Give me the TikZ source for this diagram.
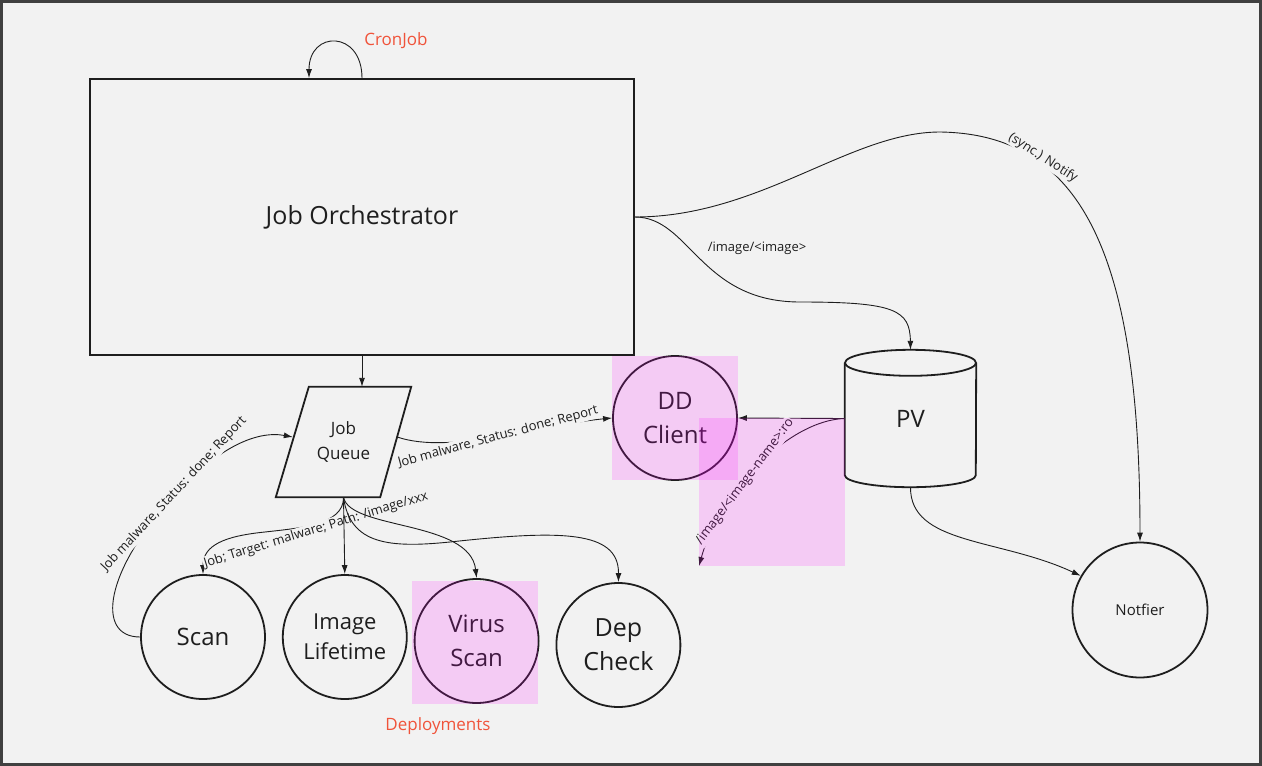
\documentclass[tikz,border=0pt]{standalone}
\usepackage{fontspec}
\setmainfont{Open Sans}
\usepackage{tikz}
\usetikzlibrary{arrows.meta,positioning,calc}
\definecolor{bg}{HTML}{F2F2F2}
\definecolor{ink}{HTML}{1E1E1E}
\definecolor{note}{HTML}{F0533A}
\definecolor{hlpink}{RGB}{255,0,255}
\newcommand{\fsz}[2]{\fontsize{#1pt}{#2pt}\selectfont}

\begin{document}
\begin{tikzpicture}[x=1pt, y=-1pt, >={Latex[length=9pt,width=6pt]},
  every node/.style={align=center, text=ink},
  box/.style={draw=ink, line width=1.8pt},
  ball/.style={circle, draw=ink, line width=1.8pt, minimum size=124pt, inner sep=0pt, font=\fsz{24}{34}},
  conn/.style={draw=ink, line width=0.9pt},
  lbl/.style={fill=bg, inner sep=1pt, font=\fsz{13}{16}},
  hl/.style={fill=hlpink, fill opacity=0.16, draw=none}]
\useasboundingbox (0,0) rectangle (1262,766);
\draw[line width=2.5pt, draw=black!75, fill=bg] (1.5,1.5) rectangle (1260.5,764.5);

\node (orch) [box, minimum width=544pt, minimum height=276pt, font=\fsz{25}{30}] at (362,217) {Job Orchestrator};
\node (cron) [text=note, font=\fsz{17}{20}] at (396,41) {CronJob};
\node (queue) [minimum width=135pt, minimum height=110pt, font=\fsz{17}{25}] at (343.5,442) {Job\\Queue};
\draw[box] ($(queue.north west)+(33,0)$) -- (queue.north east) -- ($(queue.south east)+(-31,0)$) -- (queue.south west) -- cycle;
\node (dd) [ball] at (675,418) {DD\\Client};
\node (pv) [minimum width=131pt, minimum height=137pt, font=\fsz{24}{30}] at (910.5,418.5) {PV};
\draw[box] ($(pv.north west)+(0,13)$) -- ($(pv.south west)+(0,-12)$) arc[start angle=180, end angle=360, x radius=65.5pt, y radius=12pt] -- ($(pv.north east)+(0,13)$);
\draw[box] ($(pv.north)+(0,13)$) ellipse [x radius=65.5pt, y radius=13pt];
\node (notif) [ball, minimum size=135pt, font=\fsz{15}{18}] at (1140,610) {Notfier};
\node (scan) [ball] at (203,637) {Scan};
\node (life) [ball, right=16pt of scan, font=\fsz{22}{30}] {Image\\Lifetime};
\node (virus) [ball, right=6pt of life, yshift=-4pt] {Virus\\Scan};
\node (dep) [ball, right=16pt of virus, yshift=-4pt, font=\fsz{25}{34}] {Dep\\Check};
\node (deploy) [text=note, font=\fsz{17}{20}] at (438,726) {Deployments};
\coordinate (ro) at (699,566);

\draw[conn,->] (orch.north) .. controls (362,30) and (309,30) .. ([xshift=-53pt]orch.north);
\draw[conn,->] (orch.south) -- (orch.south |- queue.north);
\draw[conn,->] (orch.east) .. controls (690,217) and (700,302) .. (800,302) .. controls (895,302) and (910,310) .. (pv.north)
  node[lbl] at (757,248) {/image/<image>};
\draw[conn,->] (orch.east) .. controls (760,217) and (850,132) .. (940,132) .. controls (1080,134) and (1140,250) .. (notif.north)
  node[lbl, rotate=-33] at (1043,158) {(sync.) Notify};
\draw[conn,->] ($(queue.east)+(-14,-5)$) .. controls (450,455) and (540,425) .. (dd.west)
  node[lbl, rotate=15] at (498,437) {Job malware, Status: done; Report};
\draw[conn,->] (scan.west) .. controls (95,637) and (105,570) .. (174,496) .. controls (215,450) and (255,430) .. ($(queue.west)+(17,-5)$)
  node[lbl, rotate=47] at (174,494) {Job malware, Status: done; Report};
\draw[conn,->] (queue.south) .. controls (344,525) and (300,528) .. (265,532) .. controls (225,536) and (203,545) .. (scan.north)
  node[lbl, rotate=17] at (316,530) {Job; Target: malware; Path: /image/xxx};
\draw[conn,->] (queue.south) -- (life.north);
\draw[conn,->] (queue.south) .. controls (350,530) and (470,520) .. (virus.north);
\draw[conn,->] (queue.south) .. controls (350,545) and (390,548) .. (450,542) .. controls (560,530) and (619,530) .. (dep.north);
\draw[conn,->] (pv.west) -- (dd.east);
\draw[conn,->] (pv.west) .. controls (790,420) and (720,490) .. (ro)
  node[lbl, rotate=53] at (745,482) {/image/<image-name>:ro};
\draw[conn,->] (pv.south) .. controls (910,545) and (1000,538) .. (notif.150);

\fill[hl] (612,356) rectangle (738,480);
\fill[hl] (699,418) rectangle (845,566);
\fill[hl] (412,581) rectangle (538,704);
\end{tikzpicture}
\end{document}
